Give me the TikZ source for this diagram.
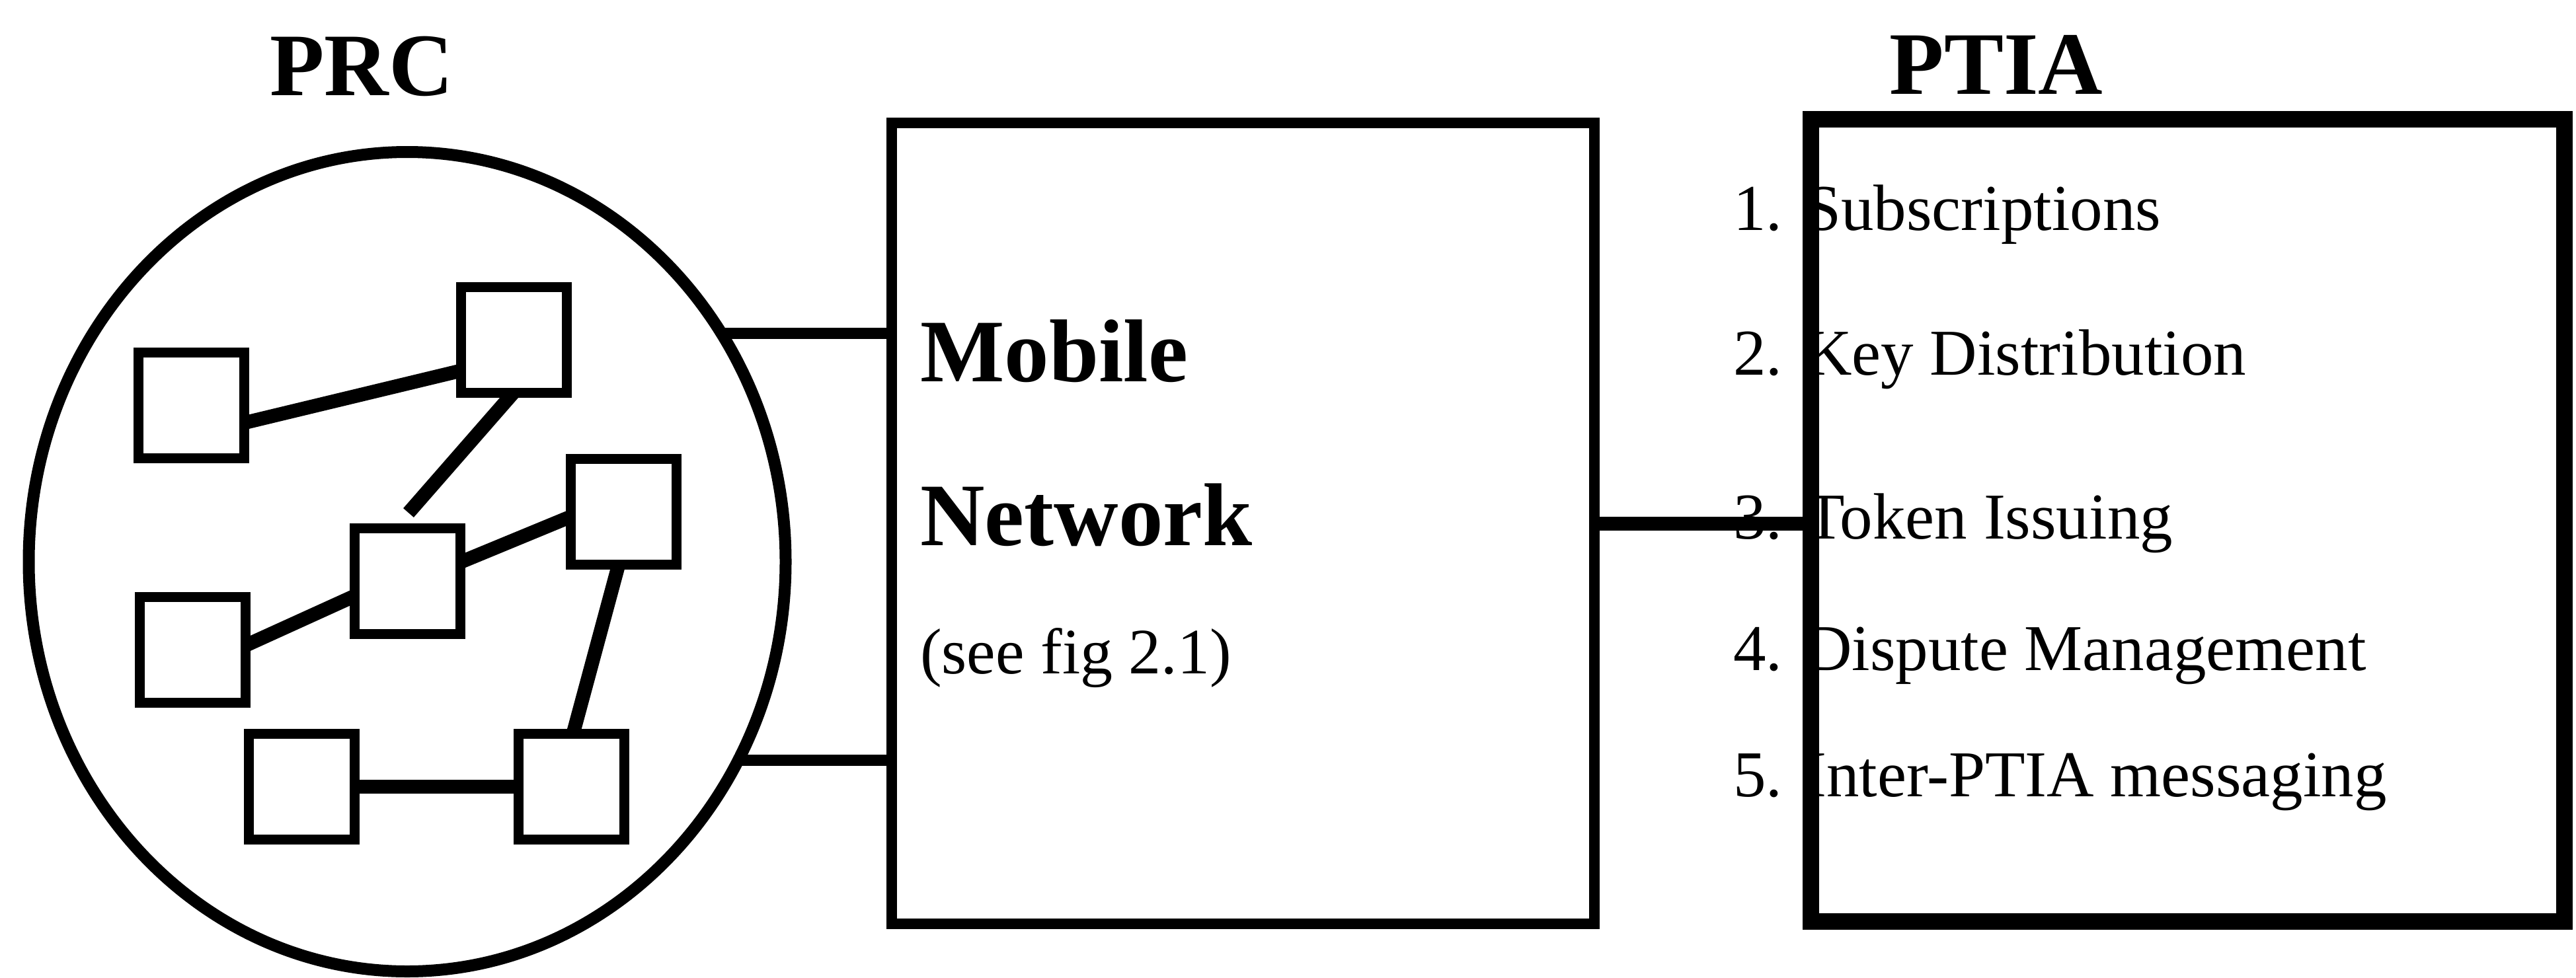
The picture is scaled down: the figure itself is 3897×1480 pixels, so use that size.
\documentclass[tikz,border=0pt]{standalone}
\usepackage{fontspec}
\setmainfont{Liberation Serif}
\usetikzlibrary{shapes.geometric,calc}

\tikzset{
  node box/.style={draw, line width=15pt, minimum size=160pt, inner sep=0pt, outer sep=0pt},
  link/.style={line width=21pt},
  wire/.style={line width=17pt},
  title/.style={font=\fontsize{135}{160}\selectfont\bfseries, inner sep=0pt, anchor=base},
  bigtext/.style={font=\fontsize{135}{160}\selectfont\bfseries, inner sep=0pt, anchor=base west},
  smalltext/.style={font=\fontsize{98}{118}\selectfont, inner sep=0pt, anchor=base west},
  itemtext/.style={font=\fontsize{99}{118}\selectfont, inner sep=0pt, anchor=base west},
}

\begin{document}
\begin{tikzpicture}[x=1pt,y=-1pt]
\useasboundingbox (0,0) rectangle (3897,1480);

% titles
\node[title] (prclabel) at (547,144) {PRC};
\node[title] (ptialabel) at (3020,142) {PTIA};

% PRC cloud with its internal nodes
\node[ellipse, draw, line width=18pt, minimum width=1145pt, minimum height=1240pt,
      inner sep=0pt, outer sep=0pt] (prc) at (616,850) {};

\node[node box] (s1) at (289,613) {};
\node[node box] (s2) at (777,514) {};
\node[node box] (s3) at (616,879) {};
\node[node box] (s4) at (943,774) {};
\node[node box] (s5) at (291,983) {};
\node[node box] (s6) at (456,1190) {};
\node[node box] (s7) at (864,1190) {};

\draw[link] ($(s1.east)+(0,27)$) -- ($(s2.west)+(0,47)$);
\draw[link] (s2.south) -- ($(s3.north)+(2,-23)$);
\draw[link] ($(s5.east)+(0,-6)$) -- ($(s3.west)+(0,23)$);
\draw[link] ($(s3.east)+(0,-28)$) -- ($(s4.west)+(0,8)$);
\draw[link] ($(s4.south)+(-7,0)$) -- ($(s7.north)+(3,0)$);
\draw[link] (s6.east) -- (s7.west);

% mobile network block
\node[draw, line width=16pt, minimum width=1063pt, minimum height=1212pt,
      inner sep=0pt, outer sep=0pt] (mob) at (1880.5,792) {};
\node[bigtext] (mobl1) at (1392,577) {Mobile};
\node[bigtext] (mobl2) at (1392,825) {Network};
\node[smalltext] (mobl3) at (1392,1019) {(see fig 2.1)};

% links from the PRC to the mobile network
\draw[wire] (prc.36.7) -- (prc.36.7 -| mob.west);
\draw[wire] (prc.-31.9) -- (prc.-31.9 -| mob.west);

% PTIA services
\node[itemtext] (n1) at (2622,348) {1.};
\node[itemtext] (t1) at (2730,348) {Subscriptions};
\node[itemtext] (n2) at (2622,567) {2.};
\node[itemtext] (t2) at (2730,567) {Key Distribution};
\node[itemtext] (n3) at (2622,815) {3.};
\node[itemtext] (t3) at (2730,815) {Token Issuing};
\node[itemtext] (n4) at (2622,1014) {4.};
\node[itemtext] (t4) at (2730,1014) {Dispute Management};
\node[itemtext] (n5) at (2622,1205) {5.};
\node[itemtext] (t5) at (2730,1205) {Inter-PTIA messaging};

% PTIA block drawn over the start of the list
\node[draw, line width=25pt, minimum width=1140pt, minimum height=1214pt,
      inner sep=0pt, outer sep=0pt] (ptia) at (3309,787) {};

% link from the mobile network to the PTIA
\draw[link] (mob.east) -- (mob.east -| ptia.west);
\end{tikzpicture}
\end{document}
